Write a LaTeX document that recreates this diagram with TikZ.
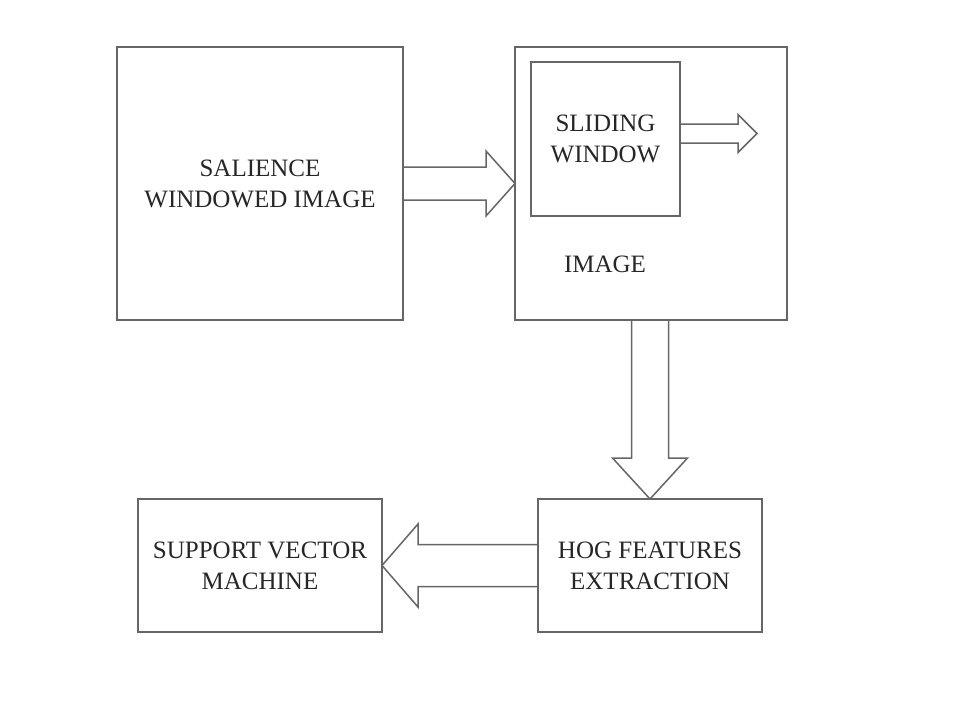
\documentclass[tikz,border=0pt]{standalone}
\usepackage{fontspec}
\setmainfont{Liberation Serif}
\usepackage{tikz}
\usetikzlibrary{calc}
\tikzset{
  box/.style={draw=black!60, line width=1.5pt, outer sep=0pt, minimum width=#1},
  blk/.style={draw=black!60, line width=1.5pt, fill=white, line join=miter},
  lbl/.style={font=\fontsize{25}{31}\selectfont, text=black!85, align=center}
}

\begin{document}
\begin{tikzpicture}[x=1pt, y=-1pt]
		%%%%% START %%%%%
		\useasboundingbox (0, 0) rectangle (960, 720);
		
		\node[box=286pt, minimum height=273pt, lbl] (sal) at (260, 183.5) {SALIENCE\\WINDOWED IMAGE};
		\node[box=272pt, minimum height=273pt] (img) at (651, 183.5) {};
		\node[box=149pt, minimum height=154pt, lbl] (sw) at (605.5, 139) {SLIDING\\WINDOW};
		\node[lbl] (imglbl) at (605, 264) {IMAGE};
		
		\node[box=224pt, minimum height=133pt, lbl] (hog) at (650, 565.5) {HOG FEATURES\\EXTRACTION};
		\node[box=244pt, minimum height=133pt, lbl] (svm) at (260, 565.5) {SUPPORT VECTOR\\MACHINE};
		
		\coordinate (swout) at (757, 133.5);
		
		% salience -> image
		\draw[blk] ($(sal.east)+(0, -16.5)$) -- ($(img.west)+(-29, -16.5)$) -- ($(img.west)+(-29, -32.5)$)
			-- (img.west) -- ($(img.west)+(-29, 32.5)$) -- ($(img.west)+(-29, 16.5)$) -- ($(sal.east)+(0, 16.5)$) -- cycle;
		% sliding window out
		\draw[blk] ($(sw.east |- swout)+(0, -9.5)$) -- ($(swout)+(-19, -9.5)$) -- ($(swout)+(-19, -19)$)
			-- (swout) -- ($(swout)+(-19, 19)$) -- ($(swout)+(-19, 9.5)$) -- ($(sw.east |- swout)+(0, 9.5)$) -- cycle;
		% image -> hog
		\draw[blk] ($(img.south -| hog.north)+(-18.5, 0)$) -- ($(hog.north)+(-18.5, -41)$) -- ($(hog.north)+(-37.5, -41)$)
			-- (hog.north) -- ($(hog.north)+(37.5, -41)$) -- ($(hog.north)+(18.5, -41)$) -- ($(img.south -| hog.north)+(18.5, 0)$) -- cycle;
		% hog -> svm
		\draw[blk] ($(hog.west)+(0, -21)$) -- ($(svm.east)+(36, -21)$) -- ($(svm.east)+(36, -41.5)$)
			-- (svm.east) -- ($(svm.east)+(36, 41.5)$) -- ($(svm.east)+(36, 21)$) -- ($(hog.west)+(0, 21)$) -- cycle;
		
		% box edges over the arrow ends
		\foreach \b in {sal, img, sw, hog, svm}
			\draw[draw=black!60, line width=1.5pt] (\b.north west) rectangle (\b.south east);
		%%%%% END %%%%%
	\end{tikzpicture}
\end{document}
